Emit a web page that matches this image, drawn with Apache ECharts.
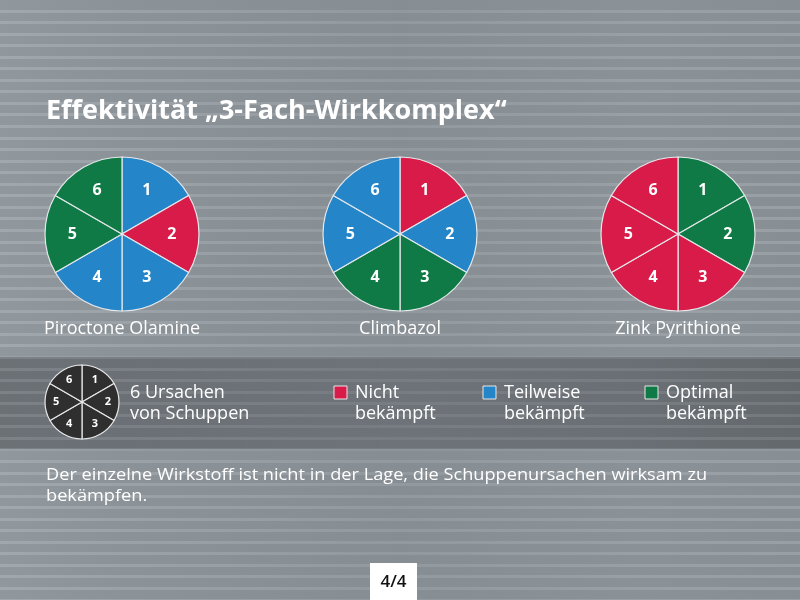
<!DOCTYPE html>
<html><head><meta charset="utf-8">
<script src="https://cdn.jsdelivr.net/npm/echarts@6/dist/echarts.min.js"></script>
<style>html,body{margin:0;padding:0;background:#878e94;}#c{width:800px;height:600px;}</style>
</head><body><div id="c"></div>
<script>
// ---- data ----
const causes = ['1', '2', '3', '4', '5', '6'];
const causeValues = [1, 1, 1, 1, 1, 1];
const agents = ['Piroctone Olamine', 'Climbazol', 'Zink Pyrithione'];
// status index: 0 = nicht, 1 = teilweise, 2 = optimal
const piroctoneStatus = [1, 0, 1, 1, 2, 2];
const climbazolStatus = [0, 1, 2, 2, 1, 1];
const zinkStatus = [2, 2, 0, 0, 0, 0];
const statusLabels = ['Nicht\nbekämpft', 'Teilweise\nbekämpft', 'Optimal\nbekämpft'];
const statusColors = ['#d81b48', '#2485c9', '#0f7a45'];
const keyLabel = '6 Ursachen\nvon Schuppen';
const titleText = 'Effektivität „3-Fach-Wirkkomplex“';
const noteText = 'Der einzelne Wirkstoff ist nicht in der Lage, die Schuppenursachen wirksam zu\nbekämpfen.';
const pageText = '4/4';

// ---- layout ----
const chart = echarts.init(document.getElementById('c'), null, {renderer: 'canvas'});
const FONT = '"Open Sans", sans-serif';
const pieCenters = [[122, 234], [400, 234], [678, 234]];
const pieRadius = 77;
const statuses = [piroctoneStatus, climbazolStatus, zinkStatus];

function pushLabel(cx, cy, k) {
  return function (p) {
    const r = p.labelRect;
    const mx = r.x + r.width / 2, my = r.y + r.height / 2;
    return {x: cx + (mx - cx) * k, y: cy + (my - cy) * k};
  };
}

const graphics = [];
// background
graphics.push({type: 'rect', z: -10, silent: true, shape: {x: 0, y: 0, width: 800, height: 600},
  style: {fill: {type: 'linear', x: 0, y: 0, x2: 1, y2: 0, colorStops: [
    {offset: 0, color: '#90979d'}, {offset: 0.15, color: '#8b9298'}, {offset: 0.5, color: '#868d93'},
    {offset: 0.8, color: '#8a9197'}, {offset: 1, color: '#878e94'}]}}});
// dark band
graphics.push({type: 'rect', z: -9, silent: true, shape: {x: 0, y: 357, width: 800, height: 92},
  style: {fill: {type: 'linear', x: 0, y: 0, x2: 1, y2: 0, colorStops: [
    {offset: 0, color: 'rgba(30,32,35,0.32)'}, {offset: 0.5, color: 'rgba(30,32,35,0.24)'},
    {offset: 1, color: 'rgba(30,32,35,0.34)'}]}}});
// stripes
for (let y = 9.5; y < 600; y += 11.55) {
  const inBand = y > 355 && y < 449;
  const a = inBand ? 0.6 : 1;
  graphics.push({type: 'rect', z: -8, silent: true, shape: {x: 0, y: Math.round(y), width: 800, height: 3},
    style: {fill: {type: 'linear', x: 0, y: 0, x2: 1, y2: 0, colorStops: [
      {offset: 0, color: 'rgba(200,206,211,' + (0.30 * a) + ')'}, {offset: 0.5, color: 'rgba(200,206,211,' + (0.18 * a) + ')'},
      {offset: 1, color: 'rgba(200,206,211,' + (0.27 * a) + ')'}]}}});
}
// title
graphics.push({type: 'text', left: 46, top: 98, silent: true,
  style: {text: titleText, fill: '#ffffff', font: 'bold 27px ' + FONT}});
// agent names
agents.forEach((a, i) => {
  graphics.push({type: 'text', silent: true, x: pieCenters[i][0], y: 329,
    style: {text: a, fill: '#ffffff', font: '18px ' + FONT, align: 'center', verticalAlign: 'middle'}});
});
// key text
graphics.push({type: 'text', silent: true, x: 130, y: 382,
  style: {text: keyLabel, fill: '#ffffff', font: '18px ' + FONT, lineHeight: 21.5}});
// legend squares
const legX = [334, 483, 645];
statusLabels.forEach((s, i) => {
  graphics.push({type: 'rect', silent: true, shape: {x: legX[i], y: 386, width: 13, height: 13},
    style: {fill: statusColors[i], stroke: '#e8e8e8', lineWidth: 1}});
  graphics.push({type: 'text', silent: true, x: legX[i] + 21, y: 382,
    style: {text: s, fill: '#ffffff', font: '18px ' + FONT, lineHeight: 21.5}});
});
// note
graphics.push({type: 'text', silent: true, x: 46, y: 465, scaleX: 1.07,
  style: {text: noteText, fill: '#ffffff', font: '17px ' + FONT, lineHeight: 21}});
// page box
graphics.push({type: 'rect', silent: true, shape: {x: 370, y: 563, width: 47, height: 40}, style: {fill: '#ffffff'}});
graphics.push({type: 'text', silent: true, x: 393.5, y: 582,
  style: {text: pageText, fill: '#111111', font: '600 17px ' + FONT, align: 'center', verticalAlign: 'middle'}});

const series = statuses.map((st, i) => ({
  type: 'pie', center: pieCenters[i], radius: pieRadius, startAngle: 90, clockwise: true,
  silent: true, animation: false,
  data: causes.map((c, j) => ({name: c, value: causeValues[j], itemStyle: {color: statusColors[st[j]]}})),
  itemStyle: {borderColor: '#e4e8eb', borderWidth: 1.2},
  label: {show: true, position: 'inside', formatter: '{b}', color: '#ffffff', fontSize: 16,
    fontWeight: 'bold', fontFamily: FONT},
  labelLine: {show: false},
  labelLayout: pushLabel(pieCenters[i][0], pieCenters[i][1], 1.2)
}));
series.push({
  type: 'pie', center: [82, 402], radius: 37, startAngle: 90, clockwise: true, silent: true, animation: false,
  data: causes.map((c, j) => ({name: c, value: causeValues[j]})),
  itemStyle: {color: '#2f2f2f', borderColor: '#e8e8e8', borderWidth: 1.2},
  label: {show: true, position: 'inside', formatter: '{b}', color: '#ffffff', fontSize: 11,
    fontWeight: 'bold', fontFamily: FONT},
  labelLine: {show: false},
  labelLayout: pushLabel(82, 402, 1.2)
});

chart.setOption({
  animation: false,
  backgroundColor: '#878e94',
  graphic: graphics,
  series: series
});
</script></body></html>
